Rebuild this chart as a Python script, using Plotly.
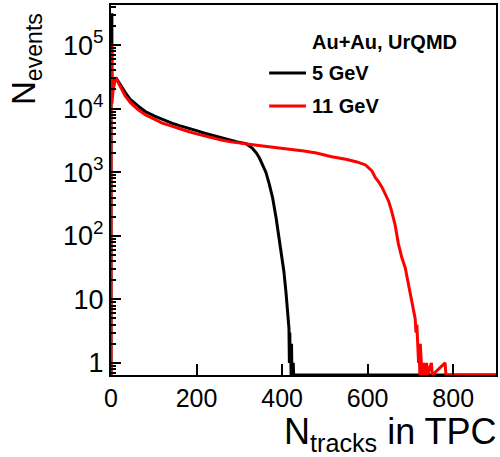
import math
import plotly.graph_objects as go

# ---- data ----
# 5 GeV (black) : N_tracks, N_events  (0 = empty bin)
x_5gev = [0, 0, 2, 2, 5, 9, 13, 17, 25, 33, 45, 63, 80, 102, 120, 142, 160, 179, 200,
          219, 240, 258, 280, 295, 316, 330, 340, 347, 355, 362, 370, 378, 386, 392,
          398, 404, 409, 413, 416, 417, 418, 419, 420, 421, 422, 423, 424, 425, 426,
          427, 428, 900]
y_5gev = [0, 3.0e5, 3.0e5, 1.5e4, 2.2e4, 2.8e4, 2.95e4, 2.7e4, 2.2e4, 1.8e4, 1.4e4,
          1.1e4, 9.0e3, 7.6e3, 6.7e3, 5.9e3, 5.4e3, 5.0e3, 4.5e3, 4.1e3, 3.8e3, 3.5e3,
          3.2e3, 3.0e3, 2.8e3, 2.4e3, 2.0e3, 1.67e3, 1.3e3, 1.0e3, 650, 390, 190, 105,
          58, 28, 13, 7, 3.5, 1, 3, 1, 2, 0, 2, 0, 1, 0, 1, 0, 0, 0]

# 11 GeV (red)
x_11gev = [0, 0, 2, 2, 5, 9, 13, 17, 25, 33, 45, 63, 80, 102, 120, 142, 160, 179, 200,
           219, 240, 258, 280, 295, 320, 350, 393, 420, 451, 480, 516, 549, 575, 595,
           610, 618, 626, 634, 641, 649, 656, 664, 672, 680, 688, 695, 702, 705, 708,
           711, 713, 715, 717, 719, 720, 722, 723, 725, 727, 729, 731, 733, 735, 738,
           740, 749, 751, 781, 783, 900]
y_11gev = [0, 1.0e5, 1.0e5, 1.2e4, 2.0e4, 2.7e4, 2.9e4, 2.6e4, 2.0e4, 1.6e4, 1.25e4,
           9.7e3, 8.0e3, 6.7e3, 5.9e3, 5.3e3, 4.8e3, 4.4e3, 4.0e3, 3.7e3, 3.4e3, 3.2e3,
           3.0e3, 2.9e3, 2.75e3, 2.6e3, 2.4e3, 2.3e3, 2.15e3, 2.0e3, 1.75e3, 1.6e3,
           1.45e3, 1.3e3, 1.05e3, 820, 700, 570, 455, 350, 245, 150, 74, 45, 31, 17,
           10.5, 8, 6, 5, 3, 4, 2, 1, 2, 0, 2, 1, 0, 1, 0, 1, 0, 1, 0, 1, 0, 1, 0, 0]

y_tick_vals = [1, 10, 100, 1000, 10000, 100000]
y_tick_text = ["1", "10", "10<sup>2</sup>", "10<sup>3</sup>", "10<sup>4</sup>", "10<sup>5</sup>"]
x_tick_vals = [0, 200, 400, 600, 800]

legend_header = "Au+Au, UrQMD"
series_names = ["5 GeV", "11 GeV"]
series_colors = ["#000000", "#ff0000"]

# ---- figure ----
Y_LOG_MIN, Y_LOG_MAX = -0.19, 5.63
floor = 10 ** Y_LOG_MIN


def clip(vals):
    return [v if v > floor else floor for v in vals]


FONT = "Liberation Sans, Arial, Helvetica, sans-serif"

fig = go.Figure()
for xs, ys, name, col in [(x_5gev, y_5gev, series_names[0], series_colors[0]),
                          (x_11gev, y_11gev, series_names[1], series_colors[1])]:
    fig.add_trace(go.Scatter(x=xs, y=clip(ys), mode="lines", name=name,
                             line=dict(color=col, width=3), showlegend=False))

minor_vals = [m * 10 ** k for k in range(-1, 6) for m in range(2, 10)
              if Y_LOG_MIN < math.log10(m * 10 ** k) < Y_LOG_MAX]

fig.update_layout(
    width=500, height=457,
    margin=dict(l=111, r=2, t=5, b=82),
    paper_bgcolor="white", plot_bgcolor="white",
    font=dict(family=FONT, color="black"),
    xaxis=dict(range=[0, 900], tickvals=x_tick_vals, ticks="inside", ticklen=11,
               tickwidth=2, tickcolor="black", showline=True, linecolor="black",
               linewidth=2, mirror=True, showgrid=False, zeroline=False,
               tickfont=dict(size=25, family=FONT)),
    yaxis=dict(type="log", range=[Y_LOG_MIN, Y_LOG_MAX], tickvals=y_tick_vals,
               ticktext=y_tick_text, ticks="inside", ticklen=10, tickwidth=2,
               tickcolor="black", showline=True, linecolor="black", linewidth=2,
               mirror=True, showgrid=False, zeroline=False,
               tickfont=dict(size=27, family=FONT)),
    # overlay axis carrying the minor log ticks
    yaxis2=dict(type="log", range=[Y_LOG_MIN, Y_LOG_MAX], overlaying="y", side="left",
                anchor="x", tickmode="array", tickvals=minor_vals, ticks="inside",
                ticklen=5, tickwidth=2, tickcolor="black", showticklabels=False,
                showgrid=False, zeroline=False, showline=False),
)
# invisible helper trace so the overlay axis is drawn
fig.add_trace(go.Scatter(x=[450], y=[10], yaxis="y2", mode="markers",
                         marker=dict(opacity=0), showlegend=False, hoverinfo="skip"))

# axis titles
fig.add_annotation(text="N<sub>events</sub>", textangle=-90, xref="paper", yref="paper",
                   x=0, y=1, xanchor="right", yanchor="top", xshift=-62, yshift=-6,
                   showarrow=False, font=dict(size=33, family=FONT))
fig.add_annotation(text="N<sub>tracks</sub> in TPC", xref="paper", yref="paper",
                   x=1, y=0, xanchor="right", yanchor="top", xshift=3, yshift=-34,
                   showarrow=False, font=dict(size=36, family=FONT))

# legend
fig.add_annotation(text="<b>" + legend_header + "</b>", xref="paper", yref="paper",
                   x=(311 - 111) / 387, y=1 - (42 - 5) / 370, xanchor="left",
                   yanchor="middle", showarrow=False, font=dict(size=20, family=FONT))
for i, (name, col) in enumerate(zip(series_names, series_colors)):
    ypix = 73 + 33 * i
    yp = 1 - (ypix - 5) / 370
    fig.add_shape(type="line", xref="paper", yref="paper",
                  x0=(270 - 111) / 387, x1=(307 - 111) / 387, y0=yp, y1=yp,
                  line=dict(color=col, width=3))
    fig.add_annotation(text="<b>" + name + "</b>", xref="paper", yref="paper",
                       x=(311 - 111) / 387, y=yp, xanchor="left", yanchor="middle",
                       showarrow=False, font=dict(size=20, family=FONT))

fig.write_html("out.html")
